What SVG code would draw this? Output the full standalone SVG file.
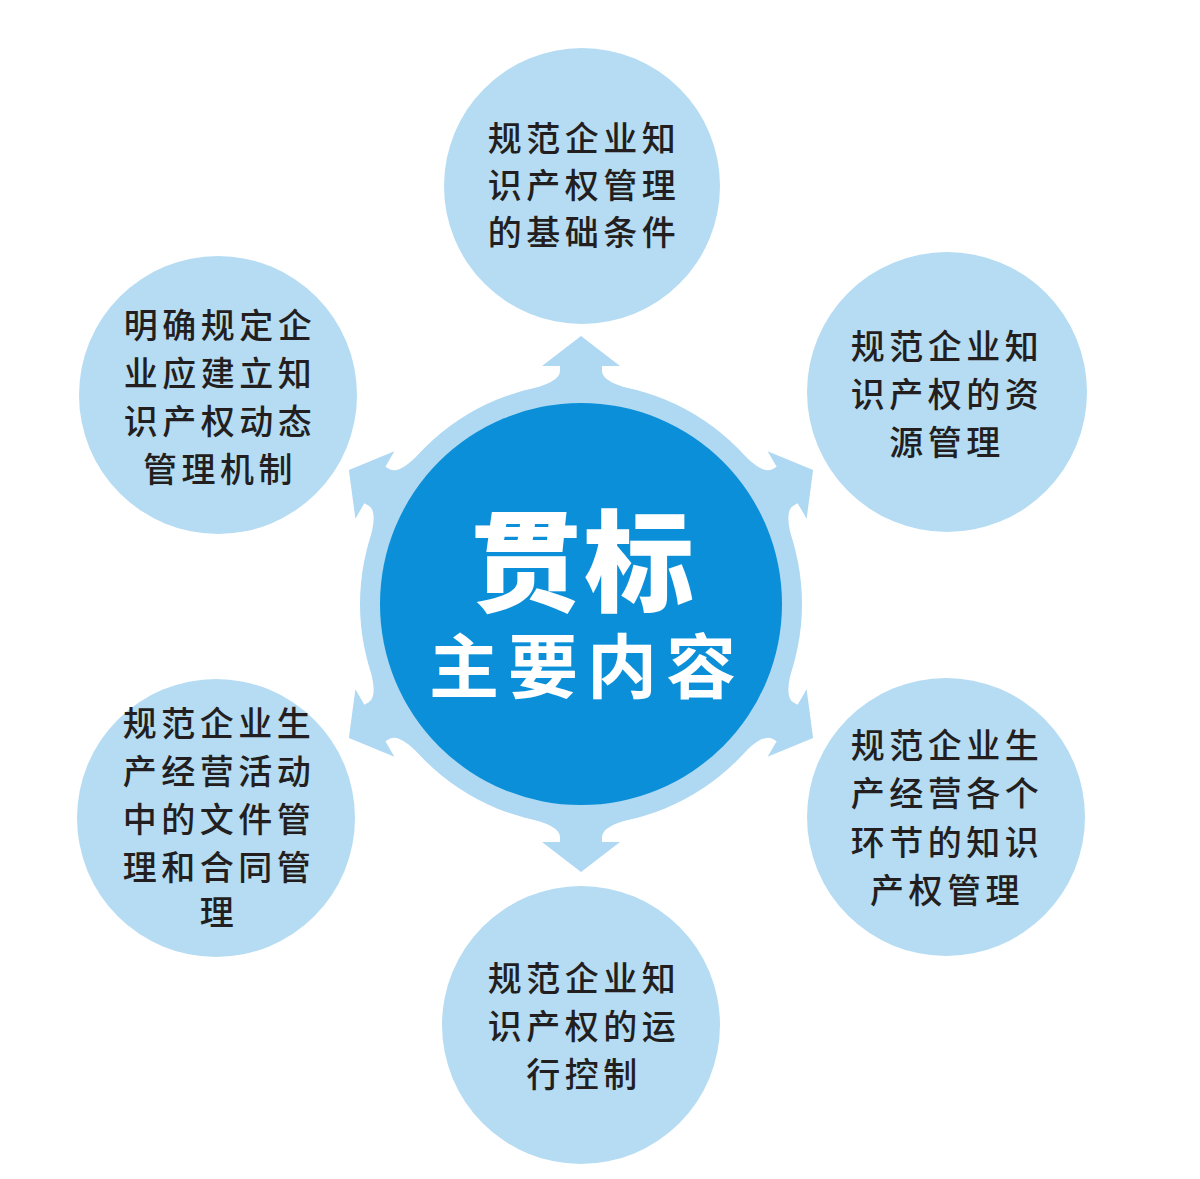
<svg xmlns="http://www.w3.org/2000/svg" width="1200" height="1179" viewBox="0 0 1200 1179">
<style>
.sat{fill:#b5dcf3;}
.ring{fill:#afd9f2;}
.core{fill:#0b8fd9;}
.lbl{font-family:"Noto Sans CJK SC","Liberation Sans",sans-serif;font-size:34px;font-weight:500;fill:#231f20;text-anchor:middle;letter-spacing:4.5px;}
.t1{font-family:"Noto Sans CJK SC","Liberation Sans",sans-serif;font-size:110px;font-weight:900;fill:#ffffff;letter-spacing:3px;}
.t2{font-family:"Noto Sans CJK SC","Liberation Sans",sans-serif;font-size:70px;font-weight:700;fill:#ffffff;letter-spacing:9px;}
</style>
<defs>
<path id="arr" class="ring" d="M -58,-213 Q -21,-221 -21,-233 L -21,-238 L -39,-238 L 0,-268 L 39,-238 L 21,-238 L 21,-233 Q 21,-221 58,-213 Z"/>
</defs>
<rect width="1200" height="1179" fill="#ffffff"/>
<g id="connectors">
<use href="#arr" transform="translate(581,604) rotate(0)"/>
<use href="#arr" transform="translate(581,604) rotate(60)"/>
<use href="#arr" transform="translate(581,604) rotate(120)"/>
<use href="#arr" transform="translate(581,604) rotate(180)"/>
<use href="#arr" transform="translate(581,604) rotate(240)"/>
<use href="#arr" transform="translate(581,604) rotate(300)"/>
</g>
<g id="node-center">
<circle class="ring" cx="581" cy="604" r="221"/>
<circle class="core" cx="581" cy="604" r="201"/>
<text text-anchor="middle"><tspan class="t1" x="584" y="603">贯标</tspan><tspan class="t2" x="587" y="693">主要内容</tspan></text>
</g>
<g id="node-top">
<circle class="sat" cx="582" cy="186" r="138"/>
<text class="lbl" x="584" y="151">规范企业知</text>
<text class="lbl" x="584" y="198">识产权管理</text>
<text class="lbl" x="584" y="245">的基础条件</text>
</g>
<g id="node-upper-left">
<circle class="sat" cx="218" cy="395" r="139"/>
<text class="lbl" x="220" y="338">明确规定企</text>
<text class="lbl" x="220" y="386">业应建立知</text>
<text class="lbl" x="220" y="434">识产权动态</text>
<text class="lbl" x="220" y="482">管理机制</text>
</g>
<g id="node-upper-right">
<circle class="sat" cx="947" cy="392" r="140"/>
<text class="lbl" x="947" y="359">规范企业知</text>
<text class="lbl" x="947" y="407">识产权的资</text>
<text class="lbl" x="947" y="455">源管理</text>
</g>
<g id="node-lower-left">
<circle class="sat" cx="216" cy="818" r="139"/>
<text class="lbl" x="219" y="736">规范企业生</text>
<text class="lbl" x="219" y="784">产经营活动</text>
<text class="lbl" x="219" y="832">中的文件管</text>
<text class="lbl" x="219" y="880">理和合同管</text>
<text class="lbl" x="219" y="925">理</text>
</g>
<g id="node-lower-right">
<circle class="sat" cx="946" cy="817" r="139"/>
<text class="lbl" x="947" y="758">规范企业生</text>
<text class="lbl" x="947" y="806">产经营各个</text>
<text class="lbl" x="947" y="855">环节的知识</text>
<text class="lbl" x="947" y="903">产权管理</text>
</g>
<g id="node-bottom">
<circle class="sat" cx="581" cy="1025" r="139"/>
<text class="lbl" x="584" y="991">规范企业知</text>
<text class="lbl" x="584" y="1039">识产权的运</text>
<text class="lbl" x="584" y="1087">行控制</text>
</g>
</svg>
